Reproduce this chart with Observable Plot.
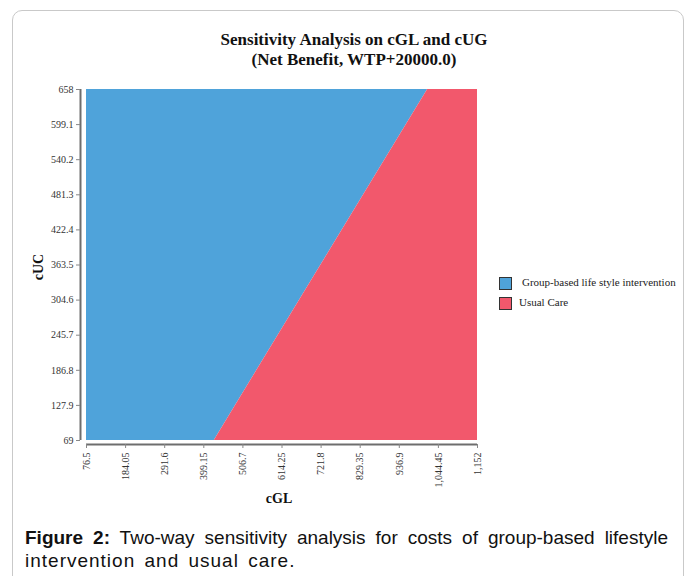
<!DOCTYPE html>
<html>
<head>
<meta charset="utf-8">
<script src="https://cdn.jsdelivr.net/npm/d3@7"></script>
<script src="https://cdn.jsdelivr.net/npm/@observablehq/plot@0.6"></script>
<style>
  html, body { margin: 0; padding: 0; background: #fff; }
  body { width: 692px; height: 576px; overflow: hidden; position: relative; font-family: "Liberation Serif", serif; }
  .card { position: absolute; left: 12px; top: 10px; width: 672px; height: 640px; border: 1px solid #c9c9c9; border-radius: 10px; box-sizing: border-box; }
  .title { position: absolute; left: 0; width: 708px; top: 30px; text-align: center; font: bold 17px "Liberation Serif", serif; line-height: 20px; color: #111; }
  #chart { position: absolute; left: 0; top: 0; }
  .sw { position: absolute; width: 11px; height: 11px; border: 1px solid #333; }
  .lt { position: absolute; font: 11px "Liberation Serif", serif; color: #222; white-space: nowrap; line-height: 12px; }
  .cap { position: absolute; left: 25px; width: 643px; font: 19px "Liberation Sans", Arial, sans-serif; line-height: 23px; color: #111; white-space: nowrap; }
  .cap1 { top: 526px; text-align: justify; text-align-last: justify; white-space: normal; }
  .cap2 { top: 549px; letter-spacing: 1px; word-spacing: 3px; }
</style>
</head>
<body>
<div class="card"></div>
<div class="title" id="title"></div>
<div id="chart"></div>
<div id="legend"></div>
<div class="cap cap1"><b>Figure 2:</b> Two-way sensitivity analysis for costs of group-based lifestyle</div>
<div class="cap cap2">intervention and usual care.</div>
<script>
// ---- data ----
const titleLines = ["Sensitivity Analysis on cGL and cUG", "(Net Benefit, WTP+20000.0)"];
const xLabel = "cGL";
const yLabel = "cUC";
const xTicks = [76.5, 184.05, 291.6, 399.15, 506.7, 614.25, 721.8, 829.35, 936.9, 1044.45, 1152];
const yTicks = [69, 127.9, 186.8, 245.7, 304.6, 363.5, 422.4, 481.3, 540.2, 599.1, 658];
const xDomain = [76.5, 1152];
const yDomain = [69, 658];
// boundary between the two optimal strategies (cGL value at given cUC)
const boundaryY = [69, 658];
const boundaryX = [428, 1015];
const strategies = ["Group-based life style intervention", "Usual Care"];
const colors = ["#4fa3da", "#f2586c"];

// ---- build ----
document.getElementById("title").innerHTML = titleLines.join("<br>");

const rows = boundaryY.map((y, i) => ({ y, b: boundaryX[i] }));
const fmt = d3.format(",");

const chart = Plot.plot({
  width: 500,
  height: 530,
  marginTop: 89,
  marginLeft: 80,
  marginRight: 23,
  marginBottom: 86,
  insetLeft: 6,
  insetBottom: 4,
  insetTop: 0,
  insetRight: 0,
  x: { domain: xDomain, label: null },
  y: { domain: yDomain, label: null },
  style: { fontFamily: "Liberation Serif", fontSize: "10px", color: "#333", background: "transparent" },
  marks: [
    Plot.areaX(rows, { y: "y", x1: () => xDomain[0], x2: "b", fill: colors[0] }),
    Plot.areaX(rows, { y: "y", x1: "b", x2: () => xDomain[1], fill: colors[1] }),
    Plot.ruleX([xDomain[0]], { y1: yDomain[0], y2: yDomain[1], dx: -6, stroke: "#6e6e6e", strokeWidth: 2 }),
    Plot.ruleY([yDomain[0]], { x1: xDomain[0], x2: xDomain[1], dy: 4, stroke: "#6e6e6e", strokeWidth: 2 }),
    Plot.axisY(yTicks, { anchor: "left", tickSize: 4, tickPadding: 3, tickFormat: fmt, label: null, stroke: "#888" }),
    Plot.axisX(xTicks, { anchor: "bottom", tickSize: 4, tickPadding: 4, tickRotate: -90, tickFormat: fmt, label: null, stroke: "#888" }),
    Plot.text([yLabel], { text: d => d, frameAnchor: "left", dx: -42, rotate: -90, textAnchor: "middle", fontWeight: "bold", fontSize: 14, fill: "#111" }),
    Plot.text([xLabel], { text: d => d, frameAnchor: "bottom", dy: 58, textAnchor: "middle", fontWeight: "bold", fontSize: 14, fill: "#111" })
  ]
});
document.getElementById("chart").appendChild(chart);

// legend (to the right of the chart)
const legend = document.getElementById("legend");
const legendPos = [{ sx: 499, sy: 277, tx: 522, ty: 276 }, { sx: 499, sy: 297, tx: 519, ty: 296 }];
strategies.forEach((s, i) => {
  const sw = document.createElement("div");
  sw.className = "sw";
  sw.style.left = legendPos[i].sx + "px";
  sw.style.top = legendPos[i].sy + "px";
  sw.style.background = colors[i];
  legend.appendChild(sw);
  const t = document.createElement("div");
  t.className = "lt";
  t.style.left = legendPos[i].tx + "px";
  t.style.top = legendPos[i].ty + "px";
  t.textContent = s;
  legend.appendChild(t);
});
</script>
</body>
</html>
